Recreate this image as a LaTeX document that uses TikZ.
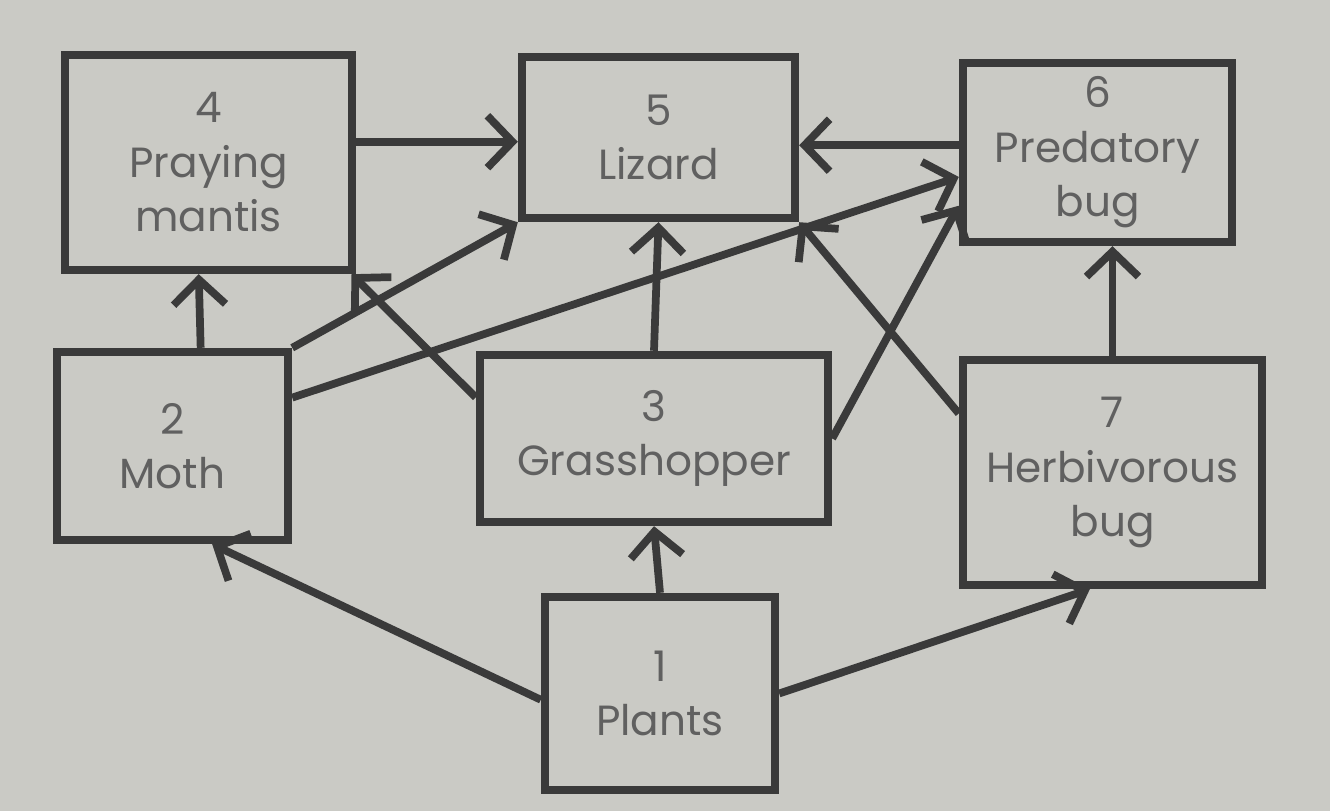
\documentclass[tikz,border=0pt]{standalone}
\usepackage{fontspec}
\setmainfont{Poppins}
\usepackage{tikz}
\usetikzlibrary{calc,arrows.meta}
\definecolor{paper}{HTML}{CACAC5}
\definecolor{ink}{HTML}{3A3A3A}
\definecolor{print}{HTML}{606060}

\begin{document}
\begin{tikzpicture}[
  box/.style={draw=ink,line width=2.4pt,rectangle,inner sep=0pt,align=center,
    text=print,font=\fontsize{12}{15.5}\selectfont},
  eat/.style={draw=ink,line width=2.2pt,-{Straight Barb[length=2.5mm,width=5.2mm]}}]
\fill[paper] (0,0) rectangle (13.3,-8.11);
\useasboundingbox (0,0) rectangle (13.3,-8.11);

\node[box,minimum width=2.87cm,minimum height=2.15cm] (mantis) at (2.085,-1.625) {4\\Praying\\mantis};
\node[box,minimum width=2.73cm,minimum height=1.61cm] (lizard) at (6.585,-1.375) {5\\Lizard};
\node[box,minimum width=2.69cm,minimum height=1.79cm] (predbug) at (10.975,-1.525) {6\\Predatory\\bug};
\node[box,minimum width=2.31cm,minimum height=1.88cm] (moth) at (1.725,-4.46) {2\\Moth};
\node[box,minimum width=3.48cm,minimum height=1.67cm] (hopper) at (6.54,-4.385) {3\\Grasshopper};
\node[box,minimum width=2.99cm,minimum height=2.25cm] (herbbug) at (11.125,-4.725) {7\\Herbivorous\\bug};
\node[box,minimum width=2.30cm,minimum height=1.93cm] (plants) at (6.60,-6.935) {1\\Plants};

\draw[eat] (plants.183) -- (moth.-68);
\draw[eat] (plants.north) -- (hopper.south);
\draw[eat] (plants.east) -- (herbbug.259);

\draw[eat] (moth.74) -- (mantis.265);
\draw[eat] (moth.north east) -- (lizard.south west);
\draw[eat] (moth.22) -- (predbug.190);

\draw[eat] (hopper.167) -- (mantis.-38);
\draw[eat] (hopper.north) -- (lizard.south);
\draw[eat] (hopper.east) -- (predbug.201);

\draw[eat] (herbbug.159) -- (lizard.south east);
\draw[eat] (herbbug.north) -- (herbbug.north |- predbug.south);

\draw[eat] (mantis.8) -- (mantis.8 -| lizard.west);
\draw[eat] (predbug.177) -- (predbug.177 -| lizard.east);

\end{tikzpicture}
\end{document}
